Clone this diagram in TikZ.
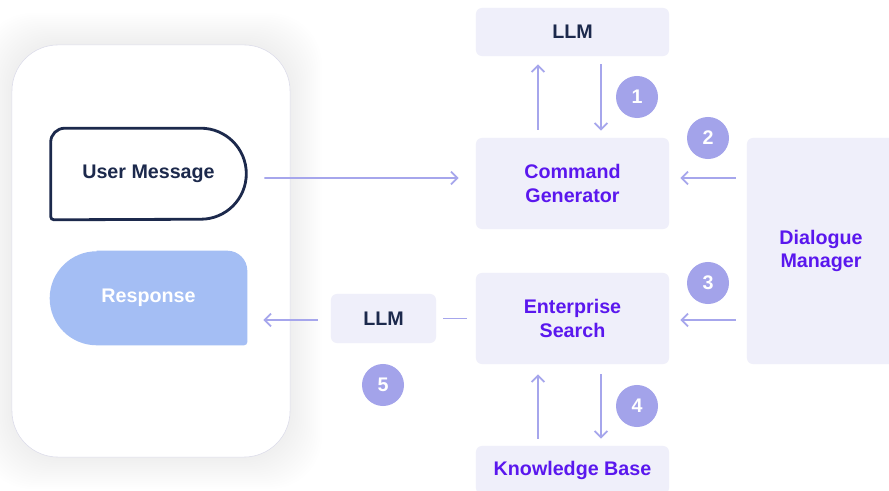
\documentclass[tikz,border=0pt]{standalone}
\usepackage{fontspec}
\setmainfont{Liberation Sans}
\usetikzlibrary{arrows.meta,positioning,backgrounds}
\definecolor{boxbg}{RGB}{239,239,250}
\definecolor{inkpurple}{RGB}{90,23,238}
\definecolor{inknavy}{RGB}{28,41,76}
\definecolor{arrowc}{RGB}{166,166,236}
\definecolor{badgec}{RGB}{163,163,234}
\definecolor{respc}{RGB}{164,190,244}
\definecolor{phoneline}{RGB}{220,220,234}

\begin{document}
\begin{tikzpicture}[
 x=0.025cm,y=-0.025cm,
 box/.style={fill=boxbg,rounded corners=0.15cm,align=center,inner sep=0pt,text=inkpurple,font=\fontsize{14}{17}\selectfont\bfseries},
 llmbox/.style={box,text=inknavy},
 bubble/.style={align=center,inner sep=0pt,font=\fontsize{14}{17}\selectfont\bfseries},
 badge/.style={circle,fill=badgec,text=white,minimum size=1.05cm,inner sep=0pt,font=\fontsize{14}{16}\selectfont\bfseries},
 arrow/.style={-{Straight Barb[length=1.6mm,width=3.2mm]},draw=arrowc,line width=1.3pt},
 link/.style={draw=arrowc,line width=1.3pt}]
\useasboundingbox (0,0) rectangle (889,491);
\begin{scope}[on background layer]
\fill[white] (0,0) rectangle (889,491);
% soft glow round the chat window
\foreach \g in {1,...,16}
  \fill[black,opacity=0.004,rounded corners=1.3cm] (12-2*\g,45-2*\g) rectangle (290+2*\g,457+2*\g);
\node[draw=phoneline,fill=white,rounded corners=1.15cm,minimum width=6.95cm,minimum height=10.3cm] (phone) at (151,251) {};
\end{scope}
% chat bubbles
\node[bubble,text=inknavy,minimum width=4.875cm,minimum height=2.275cm] (um) at (148.5,174) {User Message};
\draw[line width=2pt,draw=inknavy] ([xshift=0.35cm]um.north west) -- ([xshift=-1.1375cm]um.north east)
  arc[start angle=90,end angle=-90,radius=1.1375cm] -- ([xshift=0.08cm]um.south west)
  arc[start angle=270,end angle=180,radius=0.08cm] -- ([yshift=-0.35cm]um.north west)
  arc[start angle=180,end angle=90,radius=0.35cm] -- cycle;
\node[bubble,text=white,minimum width=4.925cm,minimum height=2.35cm] (rs) at (148.5,298) {Response};
\begin{scope}[on background layer]
\fill[respc] ([xshift=1.175cm]rs.north west) -- ([xshift=-0.5cm]rs.north east)
  arc[start angle=90,end angle=0,radius=0.5cm] -- ([yshift=0.08cm]rs.south east)
  arc[start angle=0,end angle=-90,radius=0.08cm] -- ([xshift=1.175cm]rs.south west)
  arc[start angle=270,end angle=90,radius=1.175cm] -- cycle;
\end{scope}
% pipeline
\node[llmbox,minimum width=4.825cm,minimum height=1.2cm] (llm) at (572.5,32) {LLM};
\node[box,minimum width=4.825cm,minimum height=2.275cm] (cg) at (572.5,183.5) {Command\\Generator};
\node[box,minimum width=4.825cm,minimum height=2.275cm] (es) at (572.5,318.5) {Enterprise\\Search};
\node[box,minimum width=4.825cm,minimum height=1.2cm] (kb) at (572.5,470) {Knowledge Base};
\node[box,minimum width=3.7cm,minimum height=5.65cm] (dm) at (821,251) {Dialogue\\Manager};
\node[llmbox,minimum width=2.625cm,minimum height=1.225cm] (llm2) at (383.5,318.5) {LLM};
% steps
\node[badge] (s1) at (637,97) {1};
\node[badge] (s2) at (708,138) {2};
\node[badge] (s3) at (708,283) {3};
\node[badge] (s4) at (637,406) {4};
\node[badge] (s5) at (383,385) {5};
% connectors
\draw[arrow,shorten <=0.45cm,shorten >=0.425cm] ([yshift=-0.1cm]um.east) -- ([yshift=0.1375cm]cg.west);
\draw[arrow,shorten <=0.2cm,shorten >=0.2cm] ([xshift=-0.8625cm]cg.north) -- ([xshift=-0.8625cm]llm.south);
\draw[arrow,shorten <=0.2cm,shorten >=0.175cm] ([xshift=0.7125cm]llm.south) -- ([xshift=0.7125cm]cg.north);
\draw[arrow,shorten <=0.275cm,shorten >=0.275cm] ([yshift=0.1375cm]cg.east -| dm.west) -- ([yshift=0.1375cm]cg.east);
\draw[arrow,shorten <=0.275cm,shorten >=0.275cm] ([yshift=-0.0375cm]es.east -| dm.west) -- ([yshift=-0.0375cm]es.east);
\draw[link,shorten <=0.225cm,shorten >=0.175cm] (es.west) -- (llm2.east);
\draw[arrow,shorten <=0.325cm,shorten >=0.4cm] ([yshift=-0.0375cm]llm2.west) -- ([yshift=-0.0375cm]llm2.west -| rs.east);
\draw[arrow,shorten <=0.175cm,shorten >=0.25cm] ([xshift=-0.8625cm]kb.north) -- ([xshift=-0.8625cm]es.south);
\draw[arrow,shorten <=0.25cm,shorten >=0.175cm] ([xshift=0.7125cm]es.south) -- ([xshift=0.7125cm]kb.north);
\end{tikzpicture}
\end{document}
